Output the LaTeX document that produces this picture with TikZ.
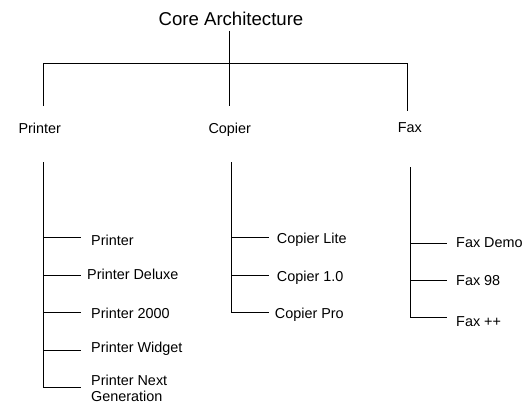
\documentclass[tikz,border=0pt]{standalone}
\usepackage{fontspec}
\setmainfont{Liberation Sans}
\begin{document}
\begin{tikzpicture}[x=1pt,y=-1pt,
  wire/.style={draw=black,line width=0.9pt},
  title/.style={font=\fontsize{18.6}{22}\selectfont,inner sep=0pt,anchor=base},
  branch/.style={font=\fontsize{14.4}{16.5}\selectfont,inner sep=0pt,anchor=base west},
  leaf/.style={font=\fontsize{14.4}{16}\selectfont,inner ysep=0pt,anchor=base west,align=left}]
\useasboundingbox (0,0) rectangle (527,404);

% root and the three product lines
\node[title] (root) at (231,25.7) {Core Architecture};
\node[branch] (printer) at (18.3,133.3) {Printer};
\node[branch] (copier) at (208.3,133.3) {Copier};
\node[branch] (fax) at (397.7,132.7) {Fax};

% junction points of the top-level bracket
\coordinate (barL) at (43.3,63.3);
\coordinate (barR) at (407.3,63.3);
\coordinate (stubP) at (43.3,106);
\coordinate (stubC) at (229.3,106);
\coordinate (stubF) at (407.3,110.7);
\coordinate (rootFoot) at (229.3,30.7);

\draw[wire] (rootFoot) -- (stubC);
\draw[wire] (stubP) -- (barL) -- (barR) -- (stubF);

% printer family (yshift is in page units: positive moves up)
\coordinate (trunkP) at (43.3,162.3);
\node[leaf,inner xsep=10pt] (p1) at (81,245.3) {Printer};
\node[leaf,inner xsep=6pt]  (p2) at (81,279)   {Printer Deluxe};
\node[leaf,inner xsep=10pt] (p3) at (81,318.3) {Printer 2000};
\node[leaf,inner xsep=10pt] (p4) at (81,352.5) {Printer Widget};
% two-line label: its base anchor sits on the second line
\node[leaf,inner xsep=10pt] (p5) at (81,401.3) {Printer Next\\Generation};
\draw[wire] (trunkP) |- ([yshift=7.8pt]p1.base west);
\draw[wire] (trunkP) |- ([yshift=4pt]p2.base west);
\draw[wire] (trunkP) |- ([yshift=6pt]p3.base west);
\draw[wire] (trunkP) |- ([yshift=2.5pt]p4.base west);
\draw[wire] (trunkP) |- ([yshift=13.6pt]p5.base west);

% copier family
\coordinate (trunkC) at (231.7,162.3);
\node[leaf,inner xsep=7.7pt] (c1) at (269,243)   {Copier Lite};
\node[leaf,inner xsep=7.7pt] (c2) at (269,281.5) {Copier 1.0};
\node[leaf,inner xsep=5.7pt] (c3) at (269,318)   {Copier Pro};
\draw[wire] (trunkC) |- ([yshift=5.7pt]c1.base west);
\draw[wire] (trunkC) |- ([yshift=6.5pt]c2.base west);
\draw[wire] (trunkC) |- ([yshift=5.7pt]c3.base west);

% fax family
\coordinate (trunkF) at (410.7,167.3);
\node[leaf,inner xsep=8.7pt] (f1) at (447.3,247)   {Fax Demo};
\node[leaf,inner xsep=8.7pt] (f2) at (447.3,285.5) {Fax 98};
\node[leaf,inner xsep=8.7pt] (f3) at (447.3,326)   {Fax ++};
\draw[wire] (trunkF) |- ([yshift=4pt]f1.base west);
\draw[wire] (trunkF) |- ([yshift=5.5pt]f2.base west);
\draw[wire] (trunkF) |- ([yshift=8.5pt]f3.base west);
\end{tikzpicture}
\end{document}
